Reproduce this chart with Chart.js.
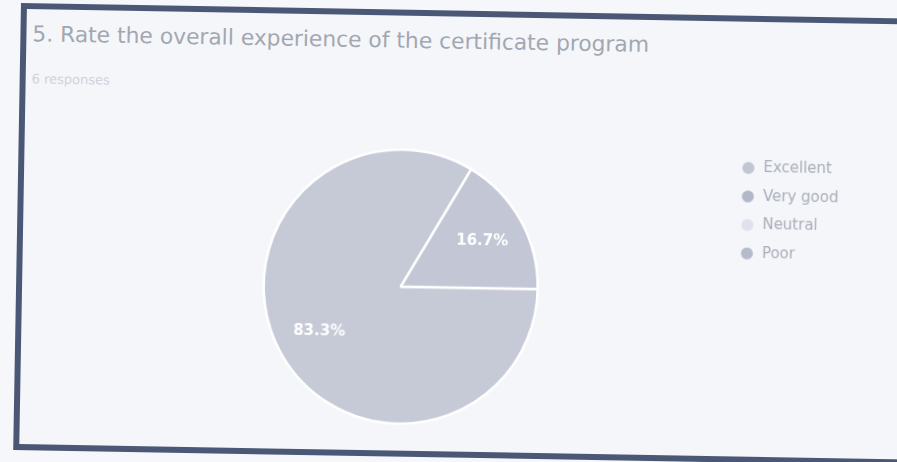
<!DOCTYPE html>
<html>
<head>
<meta charset="utf-8">
<script src="https://cdn.jsdelivr.net/npm/chart.js@4.4.1/dist/chart.umd.min.js"></script>
<style>
  html, body { margin: 0; padding: 0; width: 897px; height: 462px; overflow: hidden; background: #f6f7fa; }
  #frame {
    position: absolute; left: 21px; top: 3px; width: 900px; height: 447px;
    box-sizing: border-box; border: 6px solid #4b5875; background: #f4f6fa;
    transform-origin: 0 0; transform: rotate(1deg);
  }
  .t { position: absolute; white-space: nowrap; font-family: "DejaVu Sans", sans-serif; }
  #title { left: 6px; top: 14px; font-size: 21.8px; line-height: 22px; color: #a2a7b1; }
  #sub { left: 6px; top: 63px; font-size: 13px; line-height: 13px; color: #cfd3db; }
  #wrap { position: absolute; left: 0; top: 0; width: 870px; height: 432px; }
</style>
</head>
<body>
<div id="frame">
  <div class="t" id="title">5. Rate the overall experience of the certificate program</div>
  <div class="t" id="sub">6 responses</div>
  <div id="wrap"><canvas id="c"></canvas></div>
</div>
<script>
const categories = ["Excellent", "Very good", "Neutral", "Poor"];
const counts = [5, 1, 0, 0];
const sliceColors = ["#c6c9d6", "#c3c7d5", "#dfe2ec", "#b6bbcb"];
const markerColors = ["#c2c6d3", "#b3b8c9", "#dfe2ec", "#b6bbcb"];

const pctLabels = {
  id: 'pctLabels',
  afterDatasetsDraw(chart) {
    const ctx = chart.ctx;
    const meta = chart.getDatasetMeta(0);
    const data = chart.data.datasets[0].data;
    const total = data.reduce((a, b) => a + b, 0);
    ctx.save();
    ctx.fillStyle = '#ffffff';
    ctx.font = 'bold 15px "DejaVu Sans", sans-serif';
    ctx.textAlign = 'center';
    ctx.textBaseline = 'middle';
    meta.data.forEach((arc, i) => {
      if (!data[i]) return;
      const p = arc.getProps(['x', 'y', 'startAngle', 'endAngle', 'outerRadius'], true);
      const mid = (p.startAngle + p.endAngle) / 2;
      const r = p.outerRadius * 0.68;
      ctx.fillText((data[i] / total * 100).toFixed(1) + '%', p.x + Math.cos(mid) * r, p.y + Math.sin(mid) * r);
    });
    ctx.restore();
  }
};

new Chart(document.getElementById('c'), {
  type: 'pie',
  data: {
    labels: categories,
    datasets: [{
      data: counts,
      backgroundColor: sliceColors,
      borderColor: '#ffffff',
      borderWidth: 2.5,
      radius: 137
    }]
  },
  options: {
    responsive: true,
    maintainAspectRatio: false,
    animation: false,
    rotation: 90,
    events: [],
    layout: { padding: { top: 125.3, bottom: 15.3, left: 54, right: 45.3 } },
    plugins: {
      tooltip: { enabled: false },
      title: { display: false },
      legend: {
        position: 'right',
        align: 'start',
        labels: {
          usePointStyle: true,
          boxWidth: 15,
          boxHeight: 8.5,
          padding: 13.5,
          color: '#a9aeb8',
          font: { family: '"DejaVu Sans", sans-serif', size: 15 },
          generateLabels: () => categories.map((c, i) => ({
            text: c, fillStyle: markerColors[i], strokeStyle: markerColors[i],
            lineWidth: 0, pointStyle: 'circle', hidden: false, index: i, fontColor: '#a9aeb8'
          }))
        }
      }
    }
  },
  plugins: [pctLabels]
});
</script>
</body>
</html>
